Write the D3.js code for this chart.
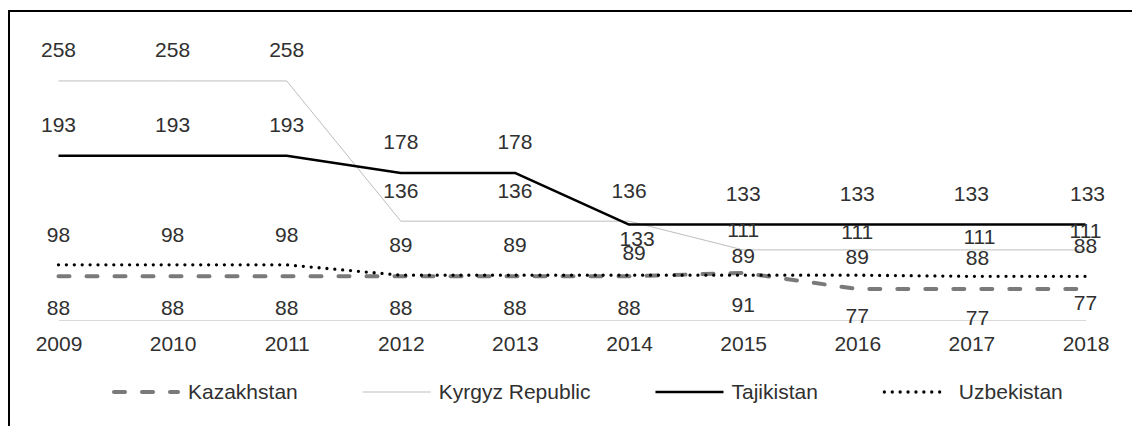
<!DOCTYPE html>
<html>
<head>
<meta charset="utf-8">
<script src="https://cdn.jsdelivr.net/npm/d3@7"></script>
<style>
  body { margin: 0; background: #fff; }
  text { font-family: "Liberation Sans", Arial, sans-serif; font-size: 21px; fill: #303030; }
</style>
</head>
<body>
<div id="chart"></div>
<script>
var years = [2009, 2010, 2011, 2012, 2013, 2014, 2015, 2016, 2017, 2018];
var kazakhstan = [88, 88, 88, 88, 88, 88, 91, 77, 77, 77];
var kyrgyz = [258, 258, 258, 136, 136, 136, 111, 111, 111, 111];
var tajikistan = [193, 193, 193, 178, 178, 133, 133, 133, 133, 133];
var uzbekistan = [98, 98, 98, 89, 89, 89, 89, 89, 88, 88];
var seriesNames = ["Kazakhstan", "Kyrgyz Republic", "Tajikistan", "Uzbekistan"];

var width = 1132, height = 426;
var svg = d3.select('#chart').append('svg').attr('width', width).attr('height', height);

// frame (only top and left edges are visible in the crop)
svg.append('rect')
  .attr('x', 9).attr('y', 11)
  .attr('width', width + 20).attr('height', height + 20)
  .attr('fill', 'none').attr('stroke', '#000').attr('stroke-width', 2);

var x = d3.scalePoint().domain(years).range([58.5, 1085.5]);
var y = d3.scaleLinear().domain([50, 300]).range([320, 32.7]);

// line styles
var styles = [
  { stroke: '#7a7a7a', width: 4, dash: '11 17', cap: 'round' },
  { stroke: '#bdbdbd', width: 1, dash: null, cap: 'butt' },
  { stroke: '#000', width: 2.5, dash: null, cap: 'butt' },
  { stroke: '#000', width: 3.3, dash: '0 7.9', cap: 'round' }
];
var values = [kazakhstan, kyrgyz, tajikistan, uzbekistan];

// label offsets (baseline relative to point), Excel labels were nudged by hand
var defaultDy = [39, -23.5, -23.5, -23];
var labelNudge = [
  [null, null, null, null, null, null, null, 34, 36, 21],
  [null, null, null, null, null, null, -13, -11, -6, -12],
  [null, null, null, null, null, 21.5, null, null, null, null],
  [null, null, null, null, null, -15, -12, -11, -11, -23]
];
var labelDx = [
  [0, 0, 0, 0, 0, 0, 0, 0, 6, 0],
  [0, 0, 0, 0, 0, 0, 0, 0, 8, 0],
  [0, 0, 0, 0, 0, 8, 0, 0, 0, 2],
  [0, 0, 0, 0, 0, 5, 0, 0, 6, 0]
];

// x axis
var axis = svg.append('g')
  .attr('transform', 'translate(0,320)')
  .call(d3.axisBottom(x).tickSize(0).tickPadding(0));
axis.select('.domain').attr('stroke', '#d9d9d9').attr('stroke-width', 1);
axis.selectAll('text')
  .attr('y', 31).attr('dy', 0)
  .style('font-family', '"Liberation Sans", Arial, sans-serif')
  .style('font-size', '21px').attr('fill', '#303030');

var line = d3.line()
  .x(function(d, i) { return x(years[i]); })
  .y(function(d) { return y(d); });

// draw Kyrgyz first (thin, behind), then others
[1, 0, 3, 2].forEach(function(s) {
  var st = styles[s];
  svg.append('path')
    .datum(values[s])
    .attr('d', line)
    .attr('fill', 'none')
    .attr('stroke', st.stroke)
    .attr('stroke-width', st.width)
    .attr('stroke-dasharray', st.dash)
    .attr('stroke-linecap', st.cap)
    .attr('stroke-linejoin', 'round');
});

// data labels
values.forEach(function(vals, s) {
  svg.append('g').selectAll('text')
    .data(vals)
    .enter().append('text')
    .attr('text-anchor', 'middle')
    .attr('x', function(d, i) { return x(years[i]) + labelDx[s][i]; })
    .attr('y', function(d, i) {
      var dy = labelNudge[s][i] != null ? labelNudge[s][i] : defaultDy[s];
      return y(d) + dy;
    })
    .text(function(d) { return d; });
});

// legend
var lx = 112, ly = 392, symLen = 68;
seriesNames.forEach(function(name, s) {
  var st = styles[s];
  var len = s == 3 ? 61 : symLen;
  svg.append('line')
    .attr('x1', lx + (s == 3 ? 1.5 : (s == 0 ? 2 : 0))).attr('x2', lx + len - (s == 0 ? 2 : 0))
    .attr('y1', ly).attr('y2', ly)
    .attr('stroke', st.stroke)
    .attr('stroke-width', st.width)
    .attr('stroke-dasharray', st.dash)
    .attr('stroke-linecap', st.cap);
  var t = svg.append('text')
    .attr('x', lx + symLen + 8)
    .attr('y', ly)
    .attr('dy', '0.35em')
    .text(name);
  lx = lx + symLen + 8 + t.node().getComputedTextLength() + 65;
});
</script>
</body>
</html>
